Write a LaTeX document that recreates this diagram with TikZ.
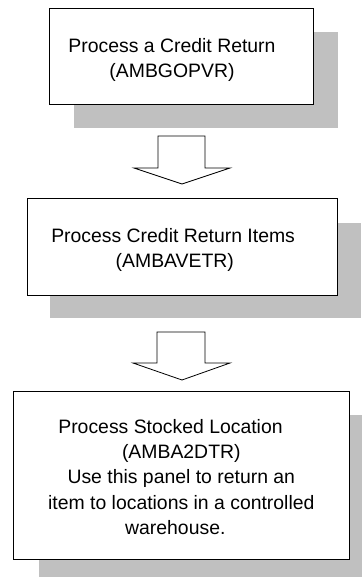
\documentclass[tikz,border=0pt]{standalone}
\usepackage{fontspec}
\setmainfont{Liberation Sans}
\definecolor{shadowgray}{HTML}{C0C0C0}
\tikzset{
  shadowbox/.style={fill=shadowgray, draw=none, inner sep=0pt, anchor=north west},
  procbox/.style={draw=black, fill=white, line width=1pt, inner sep=0pt, align=center,
    font=\fontsize{19.4}{25.3}\selectfont},
  blockarrow/.style={draw=black, fill=white, line width=0.8pt, line join=miter}
}
\begin{document}
\begin{tikzpicture}[x=1pt,y=-1pt]
\useasboundingbox (0,0) rectangle (361,577);
% box 1
\node[shadowbox, minimum width=264pt, minimum height=96pt] (s1) at (74,32) {};
\node[procbox, minimum width=264pt, minimum height=96pt] (b1) at (181.5,56.3)
  {\rule{0pt}{21pt}Process a Credit Return\hspace*{19pt}\\(AMBGOPVR)\hspace*{19pt}};
% arrow 1
\draw[blockarrow] (158,136) -- (205,136) -- (205,168) -- (230,168) -- (182,184)
  -- (134,168) -- (158,168) -- cycle;
% box 2
\node[shadowbox, minimum width=311pt, minimum height=95pt] (s2) at (50,223) {};
\node[procbox, minimum width=310pt, minimum height=97pt] (b2) at (182.3,246.5)
  {\rule{0pt}{21pt}Process Credit Return Items\hspace*{18.4pt}\\(AMBAVETR)\hspace*{15pt}};
% arrow 2
\draw[blockarrow] (157,332) -- (205,332) -- (205,363) -- (230,363) -- (182,380)
  -- (133,363) -- (157,363) -- cycle;
% box 3
\node[shadowbox, minimum width=323pt, minimum height=162pt] (s3) at (38.3,415) {};
\node[procbox, minimum width=336pt, minimum height=167.6pt] (b3) at (181.3,475.5)
  {\rule{0pt}{17pt}Process Stocked Location\hspace*{21.6pt}\\(AMBA2DTR)\hspace*{11pt}\\Use this panel to return an\hspace*{21pt}\\item to locations in a controlled\hspace*{27.6pt}\\warehouse.\hspace*{12pt}};
\end{tikzpicture}
\end{document}
